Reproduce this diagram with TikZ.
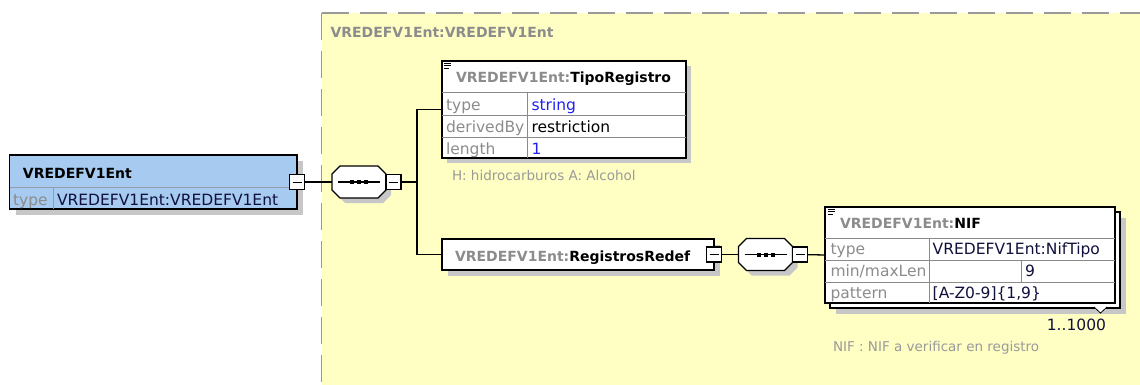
\documentclass[tikz,border=0pt]{standalone}
\usepackage{fontspec}
\setmainfont{DejaVu Sans}
\usetikzlibrary{positioning,shadows}
\definecolor{seqyellow}{HTML}{FFFFC4}
\definecolor{elemblue}{HTML}{A6CAF0}
\definecolor{keygrey}{HTML}{8C8C8C}
\definecolor{linegrey}{HTML}{8A8A8A}
\definecolor{notegrey}{HTML}{9A9A9A}
\definecolor{dashgrey}{HTML}{9A9A9A}
\definecolor{valblue}{HTML}{2020F0}
\definecolor{valnavy}{HTML}{10103C}

\begin{document}
\begin{tikzpicture}[
    x=1pt, y=-1pt,
    every node/.style={inner sep=0pt, outer sep=0pt},
    box/.style={draw=black, line width=1.5pt, fill=white, anchor=north west},
    shadowed/.style={drop shadow={shadow xshift=#1, shadow yshift=-#1, fill=black!22, opacity=1}},
    shadowed/.default=5pt,
    stacked/.style={shadowed=11pt, copy shadow={shadow xshift=5pt, shadow yshift=-5pt, draw=black, fill=white, line width=1.5pt}},
    seq/.style={minimum width=54pt, minimum height=32pt},
    minus/.style={draw=black, line width=1.2pt, fill=white, minimum size=15pt,
        path picture={\draw[line width=1pt] ([xshift=3pt]path picture bounding box.west) -- ([xshift=-3pt]path picture bounding box.east);}},
    head/.style={font=\fontsize{14}{16}\selectfont\bfseries, anchor=base west},
    key/.style={font=\fontsize{15.5}{18}\selectfont, text=keygrey, anchor=base west},
    val/.style={font=\fontsize{15.5}{18}\selectfont, text=valnavy, anchor=base west},
    note/.style={font=\fontsize{13.5}{16}\selectfont, text=notegrey, anchor=base west},
    rowline/.style={draw=linegrey, line width=0.9pt},
    conn/.style={line width=1.3pt}
]
    \useasboundingbox (0,0) rectangle (1140,385);

    % Sequence area
    \fill[seqyellow] (321.5,13) rectangle (1140,385);
    \draw[dashgrey, line width=1.6pt, dash pattern=on 27pt off 11pt] (321.5,13) -- (1140,13);
    \draw[dashgrey, line width=1.6pt, dash pattern=on 27pt off 11pt] (321.5,13) -- (321.5,385);
    \node[head, text=keygrey] (seqname) at (330.5,37.3) {VREDEFV1Ent:VREDEFV1Ent};

    % Root element
    \node[box, fill=elemblue, minimum width=287.5pt, minimum height=54pt, shadowed=6pt] (root) at (9.5,155) {};
    \draw[draw=linegrey!70!elemblue, line width=0.8pt] (9.5,187) -- (297,187);
    \draw[draw=linegrey!70!elemblue, line width=0.8pt] (53,187) -- (53,209);
    \node[head] (rootname) at (23,178) {VREDEFV1Ent};
    \node[key] (roottypek) at (13,205.5) {type};
    \node[val] (roottypev) at (57,205.5) {VREDEFV1Ent:VREDEFV1Ent};
    \node[minus] (rootminus) at (root.east) {};

    % First sequence
    \node[seq] (seq1) at (359,182) {};
    \coordinate (fork) at (417,182);

    % TipoRegistro
    \node[box, minimum width=244pt, minimum height=97pt, shadowed] (tipo) at (442,61) {};
    \draw[rowline] (442,92) -- (686,92) (442,115) -- (686,115) (442,137) -- (686,137);
    \draw[rowline] (527,92) -- (527,158);
    \draw[line width=0.7pt] (444,63) -- (451,63) (444,65.5) -- (451,65.5) (444,68) -- (449,68);
    \node[head] (tiponame) at (456,82.3) {\textcolor{keygrey}{VREDEFV1Ent:}TipoRegistro};
    \node[key] (tipotypek) at (446,110.5) {type};
    \node[key] (tipoderk) at (446,132.5) {derivedBy};
    \node[key] (tipolenk) at (446,154) {length};
    \node[val, text=valblue] (tipotypev) at (531.5,110.5) {string};
    \node[val, text=black] (tipoderv) at (531.5,132.5) {restriction};
    \node[val, text=valblue] (tipolenv) at (531.5,154) {1};
    \node[note] (tiponote) at (452,180.7) {H: hidrocarburos A: Alcohol};

    % RegistrosRedef
    \node[box, minimum width=272pt, minimum height=31pt, shadowed=6pt] (regs) at (442,239) {};
    \node[head] (regsname) at (455,261.5) {\textcolor{keygrey}{VREDEFV1Ent:}RegistrosRedef};
    \node[minus] (regsminus) at (regs.east) {};

    % Second sequence
    \node[seq] (seq2) at (765.5,254.5) {};

    % NIF
    \node[box, minimum width=290pt, minimum height=96pt, stacked] (nif) at (825,207) {};
    \draw[rowline] (825,238) -- (1115,238) (825,260) -- (1115,260) (825,282) -- (1115,282);
    \draw[rowline] (929,238) -- (929,303) (1021,260) -- (1021,282);
    \draw[line width=0.7pt] (828,209) -- (835,209) (828,211.5) -- (835,211.5) (828,214) -- (833,214);
    \node[head] (nifname) at (840,228) {\textcolor{keygrey}{VREDEFV1Ent:}NIF};
    \node[key] (niftypek) at (830.5,254.3) {type};
    \node[key] (niflenk) at (830.5,276.7) {min/maxLen};
    \node[key] (nifpatk) at (830.5,298.3) {pattern};
    \node[val] (niftypev) at (932.7,254.3) {VREDEFV1Ent:NifTipo};
    \node[val] (niflenv) at (1025,276.7) {9};
    \node[val] (nifpatv) at (932.7,298.3) {[A-Z0-9]\{1,9\}};
    \draw[line width=0.8pt, fill=white] (1094,307) -- (1100.5,313) -- (1107,307);
    \node[val, anchor=base east] (nifocc) at (1106,330) {1..1000};
    \node[note] (nifnote) at (833,351.7) {NIF : NIF a verificar en registro};

    % Sequence octagons
    \foreach \s in {seq1,seq2} {
        \fill[black!22, transform canvas={xshift=5pt, yshift=-5pt}] ([xshift=8pt]\s.north west) -- ([xshift=-8pt]\s.north east) -- ([yshift=-8pt]\s.north east) -- ([yshift=8pt]\s.south east)
            -- ([xshift=-8pt]\s.south east) -- ([xshift=8pt]\s.south west) -- ([yshift=8pt]\s.south west) -- ([yshift=-8pt]\s.north west) -- cycle;
        \draw[conn, fill=white] ([xshift=8pt]\s.north west) -- ([xshift=-8pt]\s.north east) -- ([yshift=-8pt]\s.north east) -- ([yshift=8pt]\s.south east)
            -- ([xshift=-8pt]\s.south east) -- ([xshift=8pt]\s.south west) -- ([yshift=8pt]\s.south west) -- ([yshift=-8pt]\s.north west) -- cycle;
        \draw[conn] ([xshift=6pt]\s.west) -- ([xshift=-6pt]\s.east);
        \foreach \d in {-7,0,7}
            \fill ([xshift=\d pt]\s.center) +(-2,-2) rectangle +(2,2);
    }
    \node[minus, right=0pt of seq1] (seq1minus) {};
    \node[minus, right=0pt of seq2] (seq2minus) {};

    % Draw connections
    \draw[conn] (rootminus) -- (seq1);
    \draw[conn] (seq1minus) -- (fork);
    \draw[conn] (fork) |- (tipo.west);
    \draw[conn] (fork) |- (regs.west);
    \draw[conn] (regsminus) -- (seq2);
    \draw[conn] (seq2minus) -- (nif.west);

\end{tikzpicture}
\end{document}
